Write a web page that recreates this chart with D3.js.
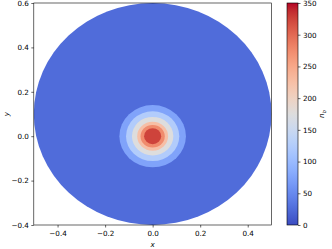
<!DOCTYPE html>
<html><head><meta charset="utf-8">
<script src="https://cdn.jsdelivr.net/npm/d3@7"></script>
<style>
body{margin:0;background:#fff;}
svg{display:block;font-family:"DejaVu Sans",sans-serif;}
</style></head>
<body><svg id="c" width="332" height="249"></svg>
<script>
// ---- data ----
const xTicks = [-0.4, -0.2, 0.0, 0.2, 0.4];
const yTicks = [-0.4, -0.2, 0.0, 0.2, 0.4, 0.6];
const cbTicks = [0, 50, 100, 150, 200, 250, 300, 350];
const levels = [0, 50, 100, 150, 200, 250, 300, 350];
// domain: disc centre (x, y) and radius, in data units
const domainCentre = [0.0, 0.1];
const domainRadius = 0.5;
// hotspot centre and radius of each contour level 50..300 (data units)
const spotCentre = [0.0, 0.0];
const levelRadius = [0.140, 0.112, 0.087, 0.065, 0.051, 0.036];

// coolwarm colormap (Moreland)
const cw = [[59,76,192],[68,90,204],[77,104,215],[87,117,225],[98,130,234],[108,142,241],[119,154,247],[130,165,251],[141,176,254],[152,185,255],[163,194,255],[174,201,253],[184,208,249],[194,213,244],[204,217,238],[213,219,230],[221,221,221],[229,216,209],[236,211,197],[241,204,185],[245,196,173],[247,187,160],[247,177,148],[247,166,135],[244,154,123],[241,141,111],[236,127,99],[229,112,88],[222,96,77],[213,80,66],[203,62,56],[192,40,47],[180,4,38]];
function coolwarm(t){
  t = Math.max(0, Math.min(1, t));
  const p = t * (cw.length - 1), i = Math.min(Math.floor(p), cw.length - 2), f = p - i;
  const c = cw[i].map((v, k) => Math.round(v + (cw[i+1][k] - v) * f));
  return `rgb(${c[0]},${c[1]},${c[2]})`;
}

const svg = d3.select("#c");
const x = d3.scaleLinear().domain([-0.5, 0.5]).range([33.8, 271.5]);
const y = d3.scaleLinear().domain([-0.4, 0.6]).range([225, 3]);
const cval = d3.scaleLinear().domain([0, 350]).range([0, 1]);
const fmt = d3.format(".1f");

const g = svg.append("g");
// clip to axes
svg.append("clipPath").attr("id","ax").append("rect")
  .attr("x", x(-0.5)).attr("y", y(0.6)).attr("width", x(0.5)-x(-0.5)).attr("height", y(-0.4)-y(0.6));
const plot = g.append("g").attr("clip-path","url(#ax)");

// lowest band over domain
const bandColor = k => coolwarm(cval((levels[k] + levels[k+1]) / 2));
plot.append("ellipse")
  .attr("cx", x(domainCentre[0])).attr("cy", y(domainCentre[1]))
  .attr("rx", x(domainRadius) - x(0)).attr("ry", y(0) - y(domainRadius))
  .attr("fill", bandColor(0));
levelRadius.forEach((r, i) => {
  plot.append("ellipse")
    .attr("cx", x(spotCentre[0])).attr("cy", y(spotCentre[1]))
    .attr("rx", x(r) - x(0)).attr("ry", y(0) - y(r))
    .attr("fill", bandColor(i + 1));
});

// axes
const xa = g.append("g").attr("transform", `translate(0,${y(-0.4)})`)
  .call(d3.axisBottom(x).tickValues(xTicks).tickFormat(fmt).tickSize(2.5).tickPadding(3.2).tickSizeOuter(0));
const ya = g.append("g").attr("transform", `translate(${x(-0.5)},0)`)
  .call(d3.axisLeft(y).tickValues(yTicks).tickFormat(fmt).tickSize(2.5).tickPadding(2.4).tickSizeOuter(0));
[xa, ya].forEach(a => {
  a.select(".domain").remove();
  a.selectAll("line").attr("stroke", "#000").attr("stroke-width", 0.6);
  a.selectAll("text").attr("font-size", 7.2).attr("font-family", "DejaVu Sans").attr("fill", "#000");
});
// frame
g.append("rect").attr("x", x(-0.5)).attr("y", y(0.6))
  .attr("width", x(0.5) - x(-0.5)).attr("height", y(-0.4) - y(0.6))
  .attr("fill", "none").attr("stroke", "#000").attr("stroke-width", 0.6);

// axis labels
g.append("text").attr("x", x(0)).attr("y", 246.5).attr("text-anchor", "middle")
  .attr("font-size", 7.2).attr("font-style", "italic").text("x");
g.append("text").attr("transform", `translate(8.5,${(y(0.6)+y(-0.4))/2}) rotate(-90)`)
  .attr("text-anchor", "middle").attr("font-size", 7.2).attr("font-style", "italic").text("y");

// colorbar
const cb = svg.append("g");
const cy = d3.scaleLinear().domain([0, 350]).range([225, 3]);
const grad = svg.append("defs").append("linearGradient").attr("id", "cwg")
  .attr("x1", 0).attr("y1", 1).attr("x2", 0).attr("y2", 0);
d3.range(0, 1.0001, 1/32).forEach(t => grad.append("stop").attr("offset", t).attr("stop-color", coolwarm(t)));
cb.append("rect").attr("x", 287).attr("y", cy(350)).attr("width", 11).attr("height", cy(0) - cy(350))
  .attr("fill", "url(#cwg)").attr("stroke", "#000").attr("stroke-width", 0.6);
const cba = cb.append("g").attr("transform", "translate(298,0)")
  .call(d3.axisRight(cy).tickValues(cbTicks).tickFormat(d3.format("d")).tickSize(2.5).tickPadding(2.4).tickSizeOuter(0));
cba.select(".domain").remove();
cba.selectAll("line").attr("stroke", "#000").attr("stroke-width", 0.6);
cba.selectAll("text").attr("font-size", 7.2).attr("font-family", "DejaVu Sans").attr("fill", "#000");
const nb = cb.append("text").attr("transform", `translate(324,${(cy(0)+cy(350))/2}) rotate(-90)`)
  .attr("text-anchor", "middle").attr("font-size", 7.2).attr("font-style", "italic");
nb.append("tspan").text("n");
nb.append("tspan").attr("font-size", 5).attr("dy", 1.5).text("b");
</script></body></html>
